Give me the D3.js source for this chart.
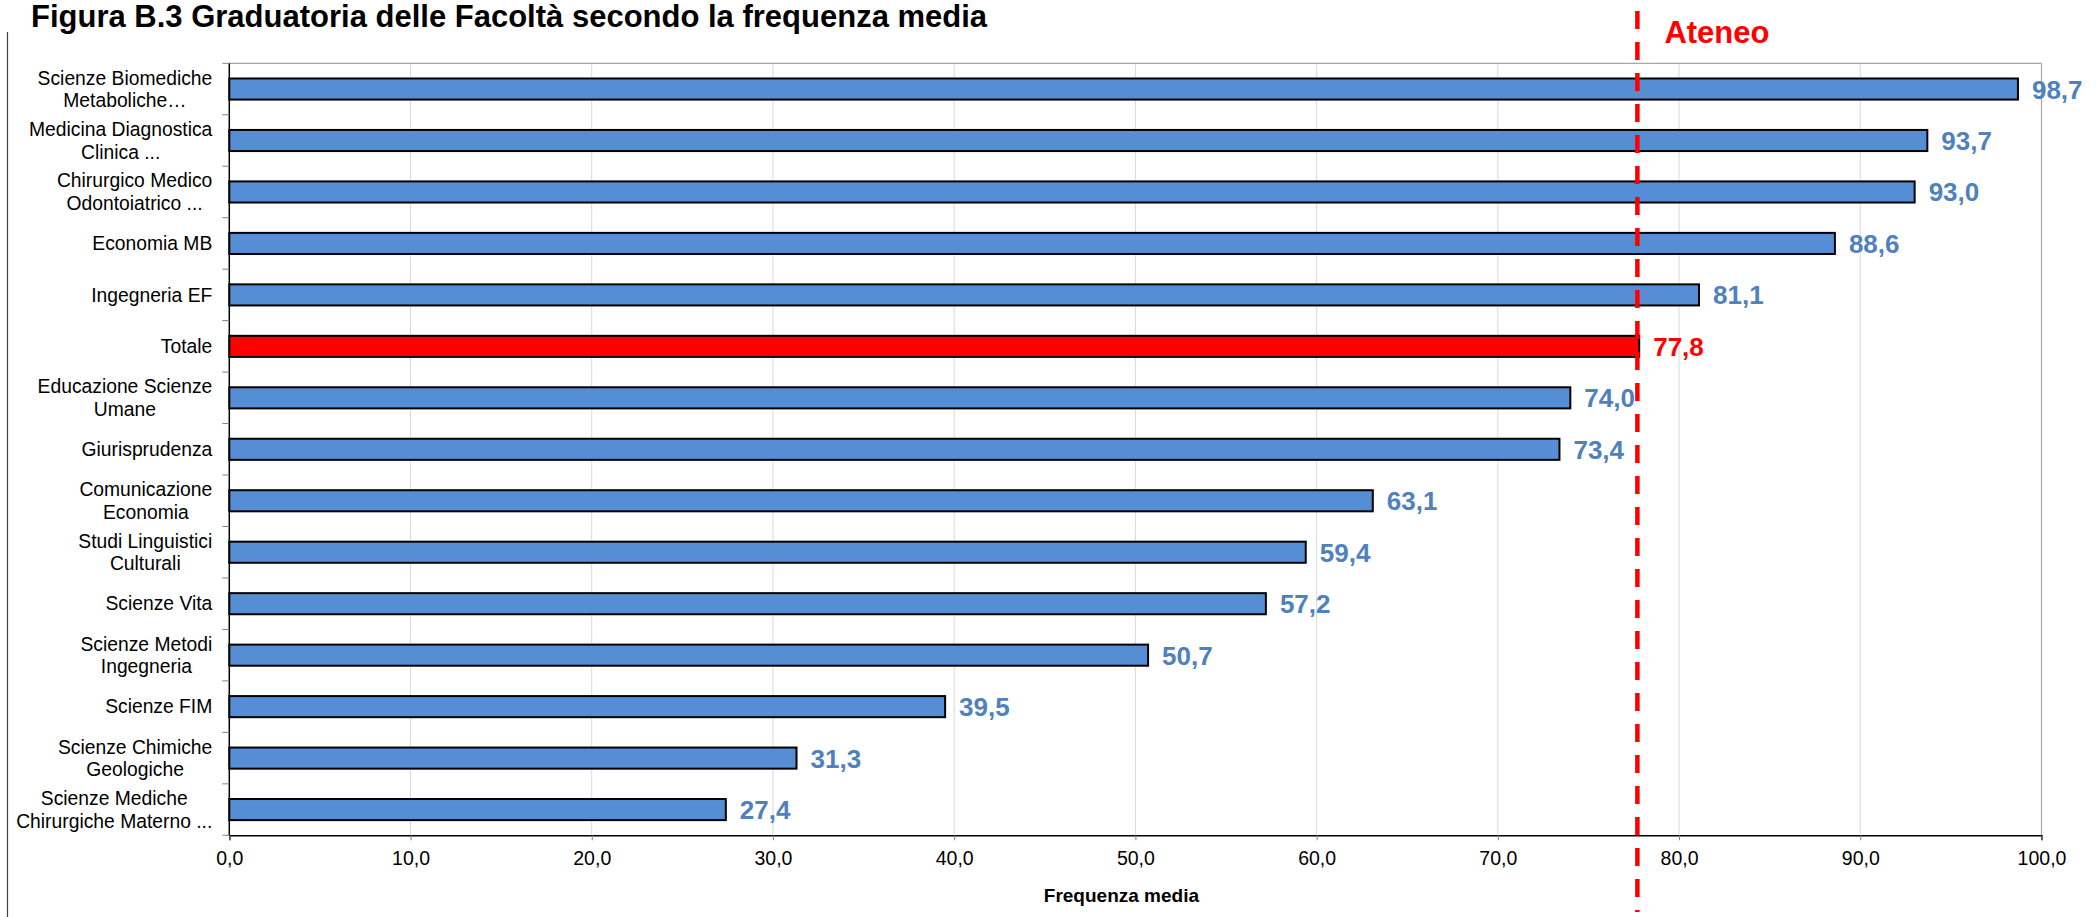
<!DOCTYPE html>
<html><head><meta charset="utf-8">
<script src="https://cdn.jsdelivr.net/npm/d3@7"></script>
<style>
body{margin:0;background:#fff;}
svg{display:block;font-family:"Liberation Sans",Arial,Helvetica,sans-serif;}
</style>
</head><body>
<svg id="chart" width="2096" height="917"></svg>
<script>
// ---- data ----
const categories = [
  "Scienze Biomediche|Metaboliche…",
  "Medicina Diagnostica|Clinica ...",
  "Chirurgico Medico|Odontoiatrico ...",
  "Economia MB",
  "Ingegneria EF",
  "Totale",
  "Educazione Scienze|Umane",
  "Giurisprudenza",
  "Comunicazione|Economia",
  "Studi Linguistici|Culturali",
  "Scienze Vita",
  "Scienze Metodi|Ingegneria",
  "Scienze FIM",
  "Scienze Chimiche|Geologiche",
  "Scienze Mediche|Chirurgiche Materno ..."
];
const values = [98.7, 93.7, 93.0, 88.6, 81.1, 77.8, 74.0, 73.4, 63.1, 59.4, 57.2, 50.7, 39.5, 31.3, 27.4];
const highlightCategory = "Totale";
const ateneoValue = 77.7;
const xTickValues = [0, 10, 20, 30, 40, 50, 60, 70, 80, 90, 100];
const titleText = "Figura B.3 Graduatoria delle Facoltà secondo la frequenza media";
const xAxisTitle = "Frequenza media";
const refLabel = "Ateneo";

// ---- layout ----
const plot = {left: 229.3, right: 2041.5, top: 63.3, bottom: 835.3};
const blue = "#558ED5", labelBlue = "#4F81BD", red = "#FF0000";
const fmt = v => d3.format(".1f")(v).replace(".", ",");

const svg = d3.select("#chart");

const x = d3.scaleLinear().domain([0, 100]).range([plot.left, plot.right]);
const y = d3.scaleBand().domain(categories).range([plot.top, plot.bottom])
  .paddingInner(0.59).paddingOuter(0.295);

// chart-area left border
svg.append("line").attr("x1", 7.5).attr("x2", 7.5).attr("y1", 32).attr("y2", 917)
  .attr("stroke", "#404040").attr("stroke-width", 1.2);

// title
svg.append("text").attr("x", 31).attr("y", 27)
  .attr("font-size", 31).attr("font-weight", "bold").attr("fill", "#000")
  .text(titleText);

// gridlines
svg.append("g").selectAll("line").data(xTickValues.filter(d => d > 0 && d < 100)).join("line")
  .attr("x1", d => x(d)).attr("x2", d => x(d))
  .attr("y1", plot.top).attr("y2", plot.bottom)
  .attr("stroke", "#d9d9d9").attr("stroke-width", 1);

// plot frame top/right
svg.append("line").attr("x1", plot.left).attr("x2", plot.right).attr("y1", plot.top).attr("y2", plot.top)
  .attr("stroke", "#a6a6a6").attr("stroke-width", 1.2);
svg.append("line").attr("x1", plot.right).attr("x2", plot.right).attr("y1", plot.top).attr("y2", plot.bottom)
  .attr("stroke", "#a6a6a6").attr("stroke-width", 1.2);

// bars
svg.append("g").selectAll("rect").data(categories).join("rect")
  .attr("x", x(0))
  .attr("y", d => y(d))
  .attr("width", (d, i) => x(values[i]) - x(0))
  .attr("height", y.bandwidth())
  .attr("fill", d => d === highlightCategory ? red : blue)
  .attr("stroke", "#000").attr("stroke-width", 2);

// value labels
svg.append("g").selectAll("text").data(categories).join("text")
  .attr("x", (d, i) => x(values[i]) + 14)
  .attr("y", d => y(d) + y.bandwidth() / 2 + 9.5)
  .attr("font-size", 26).attr("font-weight", "bold")
  .attr("fill", d => d === highlightCategory ? red : labelBlue)
  .text((d, i) => fmt(values[i]));

// x axis
const xAxis = d3.axisBottom(x).tickValues(xTickValues).tickSize(5).tickPadding(11).tickFormat(fmt);
const gx = svg.append("g").attr("transform", `translate(0,${plot.bottom})`).call(xAxis);
gx.select(".domain").attr("stroke", "#000").attr("stroke-width", 1.5);
gx.selectAll(".tick line").attr("stroke", "#808080");
gx.selectAll(".tick text").attr("font-size", 19.5).attr("fill", "#000")
  .attr("font-family", "'Liberation Sans',Arial,sans-serif");

// y axis (line + ticks at band boundaries)
svg.append("line").attr("x1", plot.left).attr("x2", plot.left).attr("y1", plot.top).attr("y2", plot.bottom)
  .attr("stroke", "#000").attr("stroke-width", 1.5);
const boundaries = d3.range(categories.length + 1).map(i => plot.top + i * y.step());
svg.append("g").selectAll("line").data(boundaries).join("line")
  .attr("x1", plot.left - 7).attr("x2", plot.left)
  .attr("y1", d => d).attr("y2", d => d)
  .attr("stroke", "#808080").attr("stroke-width", 1);

// category labels
const labelRight = plot.left - 17;
const lineH = 22.5, catFs = 19.3;
const gl = svg.append("g");
categories.forEach(c => {
  const lines = c.split("|");
  const cy = y(c) + y.bandwidth() / 2;
  const t = gl.append("text").attr("font-size", catFs).attr("fill", "#000").attr("text-anchor", "middle");
  const spans = lines.map((ln, i) => t.append("tspan")
    .attr("y", cy + (i - (lines.length - 1) / 2) * lineH + 0.35 * catFs).text(ln));
  const w = d3.max(spans, s => s.node().getComputedTextLength());
  spans.forEach(s => s.attr("x", labelRight - w / 2));
});

// axis title
svg.append("text").attr("x", (plot.left + plot.right) / 2 - 14).attr("y", 902)
  .attr("text-anchor", "middle").attr("font-size", 19).attr("font-weight", "bold")
  .text(xAxisTitle);

// Ateneo reference line
svg.append("line").attr("x1", x(ateneoValue)).attr("x2", x(ateneoValue))
  .attr("y1", 11).attr("y2", 912)
  .attr("stroke", red).attr("stroke-width", 4.5).attr("stroke-dasharray", "18,13");
svg.append("text").attr("x", x(ateneoValue) + 27).attr("y", 42.5)
  .attr("font-size", 31).attr("font-weight", "bold").attr("fill", red)
  .text(refLabel);
</script>
</body></html>
